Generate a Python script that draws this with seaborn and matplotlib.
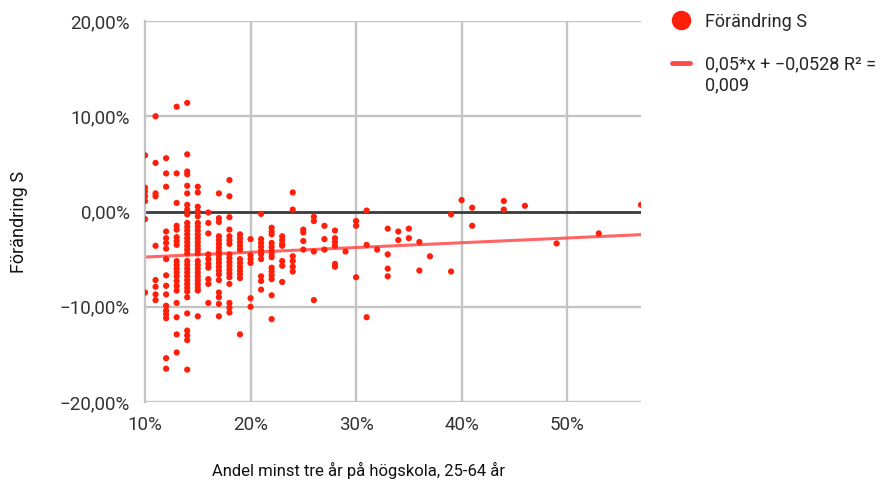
import matplotlib
matplotlib.use("Agg")

import matplotlib.pyplot as plt
import matplotlib.ticker as mticker
import numpy as np
import pandas as pd
import seaborn as sns
from matplotlib.lines import Line2D

# x columns: share with at least three years of higher education (%)
share_columns = [10, 11, 12, 13, 14, 15, 16, 17, 18, 19, 20, 21, 22, 23, 24, 25, 26,
                 27, 28, 29, 30, 31, 32, 33, 34, 35, 36, 37, 39, 40, 41, 44, 46, 49, 53, 57]

# change in S vote share (%), one list per x column
change_s = [
    [5.9, 2.5, 2.1, 1.6, 1.1, -0.8, -8.5],
    [10.0, 5.1, 1.9, 1.6, -3.6, -7.2, -7.9, -8.7, -9.3],
    [5.6, 4.0, 2.6, -2.1, -2.8, -3.3, -3.9, -5.0, -6.7, -7.8, -8.7, -9.9, -10.4, -10.8,
     -11.2, -15.4, -16.5],
    [11.0, 4.0, 0.9, -1.5, -1.9, -2.7, -3.1, -3.5, -5.2, -5.6, -6.0, -6.4, -6.8, -7.3,
     -7.8, -8.3, -9.6, -11.1, -12.9, -14.8],
    [11.4, 6.0, 4.2, 3.9, 2.7, 1.9, 0.7, 0.2, -0.3, -1.2, -1.6, -2.0, -2.4, -2.8, -3.2,
     -3.6, -4.0, -4.4, -5.2, -5.6, -6.0, -6.4, -6.8, -7.2, -7.6, -8.0, -8.4, -9.0, -10.7,
     -12.5, -13.0, -13.5, -16.6],
    [2.6, 2.0, 0.5, 0.0, -0.5, -1.2, -1.6, -2.0, -2.4, -2.8, -3.2, -3.6, -4.0, -4.4, -5.2,
     -5.6, -6.0, -6.4, -6.8, -7.2, -7.6, -8.0, -8.3, -11.0],
    [-0.1, -1.2, -2.3, -4.5, -5.0, -5.5, -5.9, -7.1, -7.6, -9.6],
    [1.9, -0.7, -1.1, -2.6, -3.0, -3.4, -3.8, -4.2, -4.6, -5.0, -5.4, -5.8, -6.2, -6.6,
     -7.2, -8.5, -9.0, -9.7, -11.0],
    [3.3, 1.6, -0.6, -1.9, -2.6, -3.0, -3.4, -4.5, -4.9, -5.3, -5.7, -6.1, -6.5, -6.9,
     -7.6, -9.6, -10.1, -10.6],
    [-2.4, -2.8, -3.2, -3.6, -4.0, -5.0, -5.4, -5.8, -6.2, -6.6, -7.0, -12.9],
    [-2.9, -4.6, -5.0, -5.4, -9.1, -10.0],
    [-0.25, -2.9, -3.3, -3.7, -4.1, -4.5, -5.0, -6.8, -7.3, -8.2],
    [-1.7, -2.1, -2.4, -3.3, -3.7, -4.1, -4.5, -4.8, -5.9, -6.3, -6.7, -7.1, -8.8, -11.3],
    [-2.6, -3.0, -3.4, -3.6, -5.2, -5.7, -7.4],
    [2.0, 0.2, -4.7, -5.2, -5.8, -6.3],
    [-1.9, -2.2, -3.1, -4.0],
    [-0.55, -1.0, -4.2, -9.3],
    [-1.5, -2.9, -4.0],
    [-2.0, -2.8, -3.2, -3.6, -5.5, -5.8],
    [-4.2],
    [-1.0, -1.5, -6.9],
    [0.1, -3.5, -11.1],
    [-4.0],
    [-1.8, -4.5, -6.0, -6.8],
    [-2.1, -3.0],
    [-1.8, -2.8],
    [-3.2, -6.2],
    [-4.7],
    [-0.3, -6.3],
    [1.2],
    [0.4, -1.5],
    [1.1, 0.2],
    [0.6],
    [-3.35],
    [-2.3],
    [0.7],
]

# trendline shown in the legend
trend_slope = 0.05
trend_intercept = -0.0528
trend_label = "0,05*x + \u22120,0528 R\u00b2 ="
trend_label_cont = "0,009"
series_label = "F\u00f6r\u00e4ndring S"

y_ticks = [-0.20, -0.10, 0.0, 0.10, 0.20]
x_ticks = [0.10, 0.20, 0.30, 0.40, 0.50]

RED = "#ff1f0a"
TREND = "#ff4a4a"
GRID = "#c4c4c4"

rows = [(col / 100, val / 100) for col, vals in zip(share_columns, change_s) for val in vals]
df = pd.DataFrame(rows, columns=["andel", "forandring"])

sns.set_theme(style="white")
plt.rcParams["font.family"] = ["Roboto", "DejaVu Sans"]

fig = plt.figure(figsize=(8.94, 4.87), dpi=100)
ax = fig.add_axes([0.1622, 0.1745, 0.5548, 0.7824])

ax.set_xlim(df["andel"].min(), df["andel"].max())
ax.set_ylim(-0.20, 0.20)

for t in x_ticks[1:]:
    ax.axvline(t, color=GRID, lw=1.7, zorder=0)
for t in y_ticks:
    if t != 0:
        ax.axhline(t, color=GRID, lw=1.7, zorder=0)
ax.axhline(0, color="#3a3a3a", lw=2.0, zorder=1)

sns.scatterplot(data=df, x="andel", y="forandring", ax=ax, color=RED, s=20,
                edgecolor="none", zorder=3, legend=False)

fit_x = np.array([df["andel"].min(), df["andel"].max()])
ax.plot(fit_x, trend_slope * fit_x + trend_intercept, color=TREND, lw=2.2, alpha=0.85, zorder=2)

ax.set_xticks(x_ticks)
ax.set_yticks(y_ticks)
ax.xaxis.set_major_formatter(mticker.FuncFormatter(lambda v, p: f"{v * 100:.0f}%"))
ax.yaxis.set_major_formatter(
    mticker.FuncFormatter(lambda v, p: f"{v * 100:.2f}%".replace(".", ",").replace("-", "\u2212")))
ax.tick_params(axis="y", length=4, color=GRID, width=1.2, pad=7, labelsize=13.5, labelcolor="#333333")
ax.tick_params(axis="x", length=0, pad=10, labelsize=13.5, labelcolor="#333333")

for side in ["top", "right", "bottom"]:
    ax.spines[side].set_visible(False)
ax.spines["left"].set_color(GRID)
ax.spines["left"].set_linewidth(1.7)

ax.set_xlabel("Andel minst tre \u00e5r p\u00e5 h\u00f6gskola, 25-64 \u00e5r", fontsize=12, color="#111111")
ax.xaxis.set_label_coords(0.43, -0.157)
ax.xaxis.label.set_va("top")
ax.set_ylabel(series_label, fontsize=13, color="#111111")
ax.yaxis.set_label_coords(-0.236, 0.472)

handles = [
    Line2D([], [], marker="o", ls="", color=RED, markersize=13),
    Line2D([], [], color=TREND, lw=3.5),
]
leg = fig.legend(handles, [series_label, trend_label], loc="upper left",
                 bbox_to_anchor=(0.738, 1.0), frameon=False, fontsize=13,
                 handlelength=1.0, handletextpad=0.8, labelspacing=1.35, borderaxespad=0.3)

# continuation line of the trendline label, placed right under it
fig.canvas.draw()
W, H = fig.canvas.get_width_height()
tb = leg.get_texts()[1].get_window_extent()
fig.text(tb.x0 / W, (tb.y0 - 3) / H, trend_label_cont, fontsize=13, va="top", ha="left",
         color=leg.get_texts()[1].get_color())

fig.savefig("out.png", dpi=100)
